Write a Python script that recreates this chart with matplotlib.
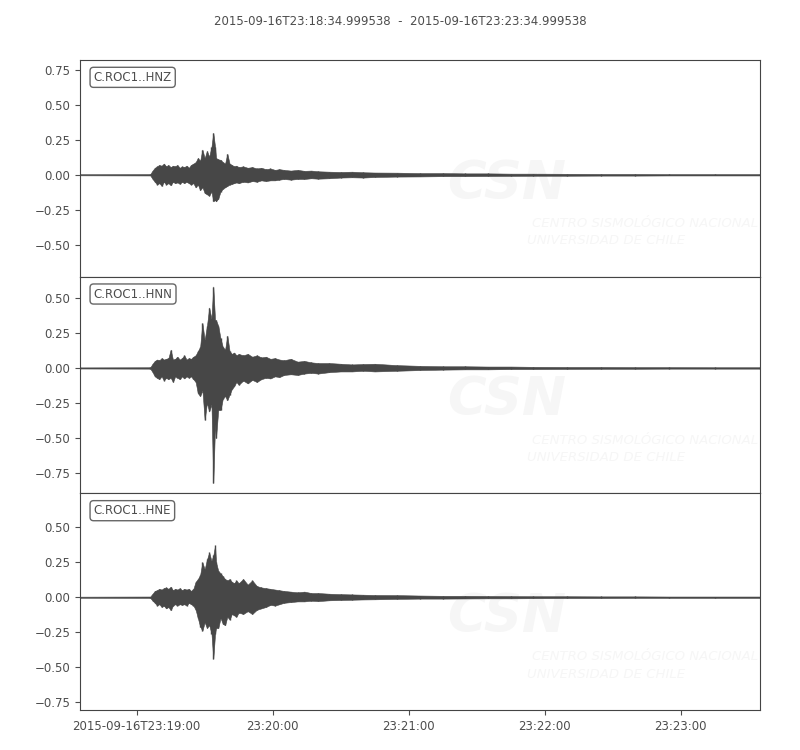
import numpy as np
import matplotlib
matplotlib.use("Agg")
import matplotlib.pyplot as plt
import matplotlib.dates as mdates
from matplotlib.ticker import MultipleLocator
from datetime import datetime, timedelta

# trace start and channel names
start = datetime(2015, 9, 16, 23, 18, 34, 999538)
end = start + timedelta(seconds=300)
channels = ["C.ROC1..HNZ", "C.ROC1..HNN", "C.ROC1..HNE"]

# envelope knots (seconds after start)
t_sec = [0, 31, 32, 33, 34, 35, 36, 37, 38, 39, 40, 41, 42, 43, 44, 45, 46, 47, 48, 49,
         50, 51, 52, 53, 54, 55, 56, 57, 58, 58.8, 59.6, 60, 61, 62, 63, 64, 65, 66, 67,
         68, 69, 70, 72, 74, 76, 78, 80, 82, 84, 86, 88, 90, 93, 96, 99, 102, 105, 110,
         115, 120, 125, 130, 140, 150, 160, 170, 180, 190, 200, 215, 230, 245, 260, 280, 300]

hnz_hi = [0.004, 0.005, 0.03, 0.05, 0.06, 0.07, 0.065, 0.08, 0.06, 0.07, 0.055, 0.065, 0.06,
          0.07, 0.05, 0.06, 0.055, 0.065, 0.05, 0.07, 0.08, 0.09, 0.12, 0.10, 0.18, 0.12, 0.17,
          0.13, 0.20, 0.30, 0.20, 0.12, 0.11, 0.107, 0.09, 0.08, 0.15, 0.08, 0.07, 0.06, 0.065,
          0.055, 0.06, 0.05, 0.055, 0.045, 0.05, 0.04, 0.045, 0.035, 0.04, 0.035, 0.03, 0.035,
          0.028, 0.03, 0.025, 0.022, 0.02, 0.022, 0.018, 0.016, 0.015, 0.012, 0.012, 0.01,
          0.01, 0.008, 0.008, 0.007, 0.006, 0.006, 0.005, 0.005, 0.005]
hnz_lo = [-0.004, -0.005, -0.03, -0.05, -0.07, -0.06, -0.08, -0.05, -0.07, -0.06, -0.075,
          -0.05, -0.06, -0.055, -0.065, -0.05, -0.06, -0.05, -0.06, -0.07, -0.06, -0.09, -0.07,
          -0.11, -0.09, -0.13, -0.14, -0.15, -0.12, -0.19, -0.18, -0.19, -0.17, -0.12, -0.10,
          -0.09, -0.08, -0.07, -0.065, -0.06, -0.055, -0.06, -0.05, -0.055, -0.045, -0.05,
          -0.04, -0.045, -0.04, -0.04, -0.035, -0.03, -0.035, -0.03, -0.03, -0.025, -0.028,
          -0.025, -0.02, -0.018, -0.02, -0.016, -0.013, -0.012, -0.01, -0.01, -0.009, -0.008,
          -0.007, -0.007, -0.006, -0.006, -0.005, -0.005, -0.005]

hnn_hi = [0.004, 0.005, 0.03, 0.05, 0.06, 0.055, 0.07, 0.06, 0.065, 0.07, 0.13, 0.06, 0.065,
          0.08, 0.06, 0.07, 0.09, 0.06, 0.07, 0.065, 0.08, 0.09, 0.12, 0.15, 0.32, 0.20, 0.30,
          0.43, 0.35, 0.58, 0.34, 0.34, 0.30, 0.21, 0.15, 0.13, 0.23, 0.12, 0.10, 0.11, 0.09,
          0.10, 0.09, 0.10, 0.08, 0.09, 0.075, 0.08, 0.065, 0.07, 0.06, 0.055, 0.065, 0.045,
          0.05, 0.04, 0.035, 0.035, 0.03, 0.025, 0.028, 0.03, 0.02, 0.015, 0.012, 0.012, 0.01,
          0.01, 0.008, 0.007, 0.007, 0.006, 0.006, 0.005, 0.005]
hnn_lo = [-0.004, -0.005, -0.03, -0.06, -0.07, -0.08, -0.06, -0.09, -0.07, -0.08, -0.07,
          -0.10, -0.06, -0.07, -0.08, -0.06, -0.075, -0.06, -0.07, -0.06, -0.08, -0.10, -0.18,
          -0.20, -0.16, -0.37, -0.25, -0.31, -0.26, -0.82, -0.40, -0.50, -0.30, -0.30, -0.22,
          -0.20, -0.23, -0.19, -0.15, -0.13, -0.10, -0.12, -0.09, -0.11, -0.085, -0.10, -0.08,
          -0.07, -0.075, -0.06, -0.065, -0.05, -0.045, -0.05, -0.04, -0.035, -0.04, -0.03,
          -0.025, -0.025, -0.02, -0.025, -0.02, -0.015, -0.012, -0.01, -0.01, -0.008, -0.008,
          -0.007, -0.006, -0.006, -0.005, -0.005, -0.005]

hne_hi = [0.004, 0.005, 0.025, 0.045, 0.05, 0.06, 0.055, 0.065, 0.07, 0.06, 0.075, 0.05, 0.06,
          0.055, 0.065, 0.05, 0.06, 0.055, 0.06, 0.045, 0.06, 0.11, 0.13, 0.16, 0.25, 0.20,
          0.27, 0.32, 0.26, 0.30, 0.37, 0.25, 0.19, 0.17, 0.15, 0.13, 0.12, 0.13, 0.11, 0.10,
          0.12, 0.10, 0.13, 0.09, 0.12, 0.08, 0.07, 0.065, 0.06, 0.055, 0.05, 0.045, 0.04,
          0.035, 0.04, 0.03, 0.03, 0.025, 0.022, 0.02, 0.018, 0.016, 0.015, 0.012, 0.01, 0.01,
          0.009, 0.008, 0.007, 0.007, 0.006, 0.006, 0.005, 0.005, 0.005]
hne_lo = [-0.004, -0.005, -0.025, -0.04, -0.06, -0.05, -0.07, -0.06, -0.08, -0.07, -0.093,
          -0.06, -0.05, -0.06, -0.05, -0.055, -0.05, -0.06, -0.04, -0.05, -0.06, -0.09, -0.15,
          -0.21, -0.24, -0.18, -0.22, -0.20, -0.26, -0.44, -0.26, -0.22, -0.22, -0.15, -0.19,
          -0.20, -0.14, -0.16, -0.12, -0.13, -0.14, -0.11, -0.12, -0.10, -0.12, -0.09, -0.08,
          -0.07, -0.055, -0.06, -0.05, -0.04, -0.035, -0.03, -0.03, -0.025, -0.028, -0.022,
          -0.02, -0.018, -0.016, -0.015, -0.012, -0.01, -0.01, -0.009, -0.008, -0.008, -0.007,
          -0.006, -0.006, -0.005, -0.005, -0.005, -0.005]

y_limits = [(-0.729, 0.821), (-0.893, 0.65), (-0.807, 0.743)]

trace_color = "#474747"
text_color = "#4d4d4d"
mark_color = "#f6f6f6"

fig, axes = plt.subplots(3, 1, figsize=(8, 7.5), dpi=100, sharex=True)
fig.subplots_adjust(left=0.1, right=0.95, top=0.92, bottom=0.0533, hspace=0)

x0 = mdates.date2num(start)
x = x0 + np.array(t_sec) / 86400.0
envelopes = [(hnz_hi, hnz_lo), (hnn_hi, hnn_lo), (hne_hi, hne_lo)]

for ax, name, (hi, lo), ylim in zip(axes, channels, envelopes, y_limits):
    # faint CSN watermark
    ax.text(0.628, 0.43, "CSN", transform=ax.transAxes, fontsize=38, fontweight="bold",
            fontstyle="italic", color=mark_color, ha="center", va="center", zorder=0,
            clip_on=True)
    ax.text(0.665, 0.245, "CENTRO SISMOLÓGICO NACIONAL", transform=ax.transAxes,
            fontsize=9.5, fontstyle="italic", color=mark_color, ha="left", va="center",
            zorder=0, clip_on=True)
    ax.text(0.658, 0.165, "UNIVERSIDAD DE CHILE", transform=ax.transAxes,
            fontsize=9.5, fontstyle="italic", color=mark_color, ha="left", va="center",
            zorder=0, clip_on=True)

    # waveform envelope with a vertical stroke at every knot
    ax.fill_between(x, lo, hi, color=trace_color, lw=0.4, zorder=2)
    ax.vlines(x, lo, hi, color=trace_color, lw=1.0, zorder=2)

    ax.set_ylim(*ylim)
    ax.set_xlim(x0, mdates.date2num(end))
    ax.yaxis.set_major_locator(MultipleLocator(0.25))
    ax.text(0.02, 0.95, name, transform=ax.transAxes, fontsize=8.5, color=text_color,
            ha="left", va="top",
            bbox=dict(boxstyle="round,pad=0.3", fc="white", ec="#666666", lw=1))
    ax.tick_params(labelsize=8.5, colors=text_color)
    for sp in ax.spines.values():
        sp.set_color("#444444")

def fmt(v, pos):
    d = mdates.num2date(v)
    if pos == 0:
        return d.strftime("%Y-%m-%dT%H:%M:%S")
    return d.strftime("%H:%M:%S")

axes[-1].xaxis.set_major_locator(mdates.MinuteLocator())
axes[-1].xaxis.set_major_formatter(plt.FuncFormatter(fmt))

fig.suptitle("2015-09-16T23:18:34.999538  -  2015-09-16T23:23:34.999538",
             y=0.98, fontsize=8.5, color=text_color)

fig.savefig("out.png", dpi=100)
